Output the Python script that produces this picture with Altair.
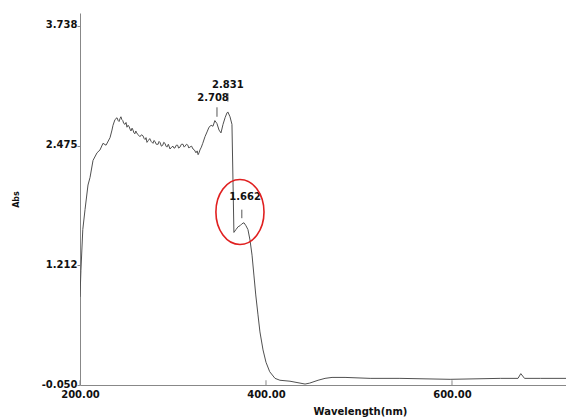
import altair as alt
import pandas as pd

# Spectrum
wavelength = [200, 201, 203, 205.4, 208.6, 210.8, 214, 218.3, 221.5, 224.7, 228, 232.3, 234.4, 235.5,
              237.6, 239.8, 241, 242, 243, 244, 245, 246, 247, 248.4, 249.5, 250.5, 251.5, 252.7, 253.8, 254.8,
              256, 257, 258, 259, 260, 261, 262.5, 264.5, 266, 267.7, 269,
              270, 271, 272, 273.5, 275, 276.5, 278.5, 279.5, 280.6, 282, 284, 285, 286, 287.5, 289, 290,
              291.4, 292.5, 293.5, 295, 296.8, 298.5, 300, 301, 302, 303.5, 305, 306, 307.5, 309,
              310.8, 312, 313, 314.5, 316, 317, 318, 320, 321.5, 323, 324.7, 326, 327, 328, 329, 330.5, 332,
              334.4, 336.6, 338.7, 341, 343, 345,
              347.3, 349.5, 351.6, 353.8, 356, 358, 359, 361.3, 363.4, 364.5, 365.5, 367.7, 370, 372,
              374, 376.3, 378.5, 380.6, 382.8, 385, 387, 389, 391.4, 393.5, 396.8, 400, 404, 409.7,
              415, 425.8, 436.6, 442, 447, 456, 463.5, 471, 485, 512, 544, 598, 652, 671, 674, 678,
              695, 722.6]
absorbance = [0.88, 1.16, 1.59, 1.80, 2.06, 2.14, 2.32, 2.40, 2.43, 2.50, 2.48, 2.56, 2.64, 2.69,
              2.75, 2.77, 2.74, 2.73, 2.76, 2.78, 2.75, 2.74, 2.71, 2.70, 2.72, 2.67, 2.69, 2.68, 2.65, 2.63,
              2.66, 2.64, 2.61, 2.60, 2.63, 2.61, 2.59, 2.57, 2.59, 2.58, 2.55,
              2.54, 2.56, 2.51, 2.53, 2.55, 2.52, 2.50, 2.53, 2.52, 2.49, 2.49, 2.52, 2.51, 2.47, 2.48, 2.51,
              2.50, 2.47, 2.46, 2.49, 2.44, 2.46, 2.47, 2.45, 2.45, 2.48, 2.48, 2.45, 2.46, 2.49,
              2.49, 2.46, 2.47, 2.49, 2.48, 2.45, 2.46, 2.47, 2.44, 2.43, 2.40, 2.42, 2.38, 2.40, 2.43, 2.46, 2.50,
              2.57, 2.62, 2.67, 2.69, 2.68, 2.74,
              2.708, 2.64, 2.61, 2.70, 2.77, 2.82, 2.831, 2.78, 2.70, 2.11, 1.56, 1.59, 1.62, 1.63,
              1.65, 1.662, 1.63, 1.59, 1.48, 1.32, 1.11, 0.90, 0.69, 0.51, 0.32, 0.19, 0.09, 0.02,
              0.00, -0.01, -0.03, -0.04, -0.03, 0.00, 0.02, 0.03, 0.03, 0.02, 0.02, 0.01, 0.02, 0.02, 0.07, 0.02,
              0.02, 0.02]

y_ticks = [-0.050, 1.212, 2.475, 3.738]
x_ticks = [200, 400, 600]

peak_labels = ["2.708", "2.831", "1.662"]
peak_label_x = [343, 359, 377.5]
peak_label_y = [2.98, 3.116, 1.934]
peak_mark_x = [347.3, 359, 374]
peak_mark_y1 = [2.88, 3.03, 1.80]
peak_mark_y2 = [2.78, 2.94, 1.71]

circle_x = [372]
circle_y = [1.775]

spec = pd.DataFrame({"wl": wavelength, "abs": absorbance})
lab = pd.DataFrame({"t": peak_labels, "x": peak_label_x, "y": peak_label_y})
marks = pd.DataFrame({"x": peak_mark_x, "y": peak_mark_y1, "y2": peak_mark_y2})
circ = pd.DataFrame({"x": circle_x, "y": circle_y})
xt = pd.DataFrame({"x": x_ticks, "y": [-0.05] * 3, "y2": [0.0] * 3})

FONT = "DejaVu Sans"
xs = alt.Scale(domain=[200, 722.6], nice=False, zero=False)
ys = alt.Scale(domain=[-0.05, 3.875], nice=False, zero=False)

line = alt.Chart(spec).mark_line(color="#505050", strokeWidth=1, clip=True).encode(
    x=alt.X("wl:Q", scale=xs, title="Wavelength(nm)",
            axis=alt.Axis(values=x_ticks, format=".2f", grid=False, ticks=False,
                          labelFont=FONT, labelFontWeight="bold", labelFontSize=10,
                          labelColor="#111", labelPadding=4, domainColor="#888",
                          titleFont=FONT, titleFontWeight="bold", titleFontSize=10, titleColor="#111",
                          titleX=280, titleY=21, titleBaseline="top", labelFlush=False)),
    y=alt.Y("abs:Q", scale=ys, title="Abs",
            axis=alt.Axis(values=y_ticks, format=".3f", grid=False, tickSize=3,
                          labelExpr="replace(datum.label, '\u2212', '-')",
                          labelFont=FONT, labelFontWeight="bold", labelFontSize=10,
                          labelColor="#111", labelPadding=0, labelOffset=-1,
                          domainColor="#888", tickColor="#888",
                          titleFont=FONT, titleFontWeight="bold", titleFontSize=8, titleColor="#111",
                          titleX=-60, labelFlush=False)),
)

xtick = alt.Chart(xt).mark_rule(color="#888", strokeWidth=1).encode(
    x=alt.X("x:Q", scale=xs), y=alt.Y("y:Q", scale=ys), y2="y2:Q")

text = alt.Chart(lab).mark_text(font=FONT, fontWeight="bold", fontSize=10, color="#111").encode(
    x=alt.X("x:Q", scale=xs), y=alt.Y("y:Q", scale=ys), text="t:N")

ticks = alt.Chart(marks).mark_rule(color="#555", strokeWidth=1).encode(
    x=alt.X("x:Q", scale=xs), y=alt.Y("y:Q", scale=ys), y2="y2:Q")

ellipse = alt.Chart(circ).mark_point(
    shape="M -0.74 0 A 0.74 1 0 1 1 0.74 0 A 0.74 1 0 1 1 -0.74 0 Z",
    size=4225, filled=False, color="#e02020", strokeWidth=1.6, opacity=1).encode(
    x=alt.X("x:Q", scale=xs), y=alt.Y("y:Q", scale=ys))

chart = (line + xtick + ticks + text + ellipse).properties(
    width=486, height=372,
    autosize=alt.AutoSizeParams(type="none"),
    padding={"left": 72, "top": 5, "right": 0, "bottom": 33},
    background="white",
).configure_view(stroke=None)

chart.save("out.html", embed_options={"renderer": "svg", "actions": False})
